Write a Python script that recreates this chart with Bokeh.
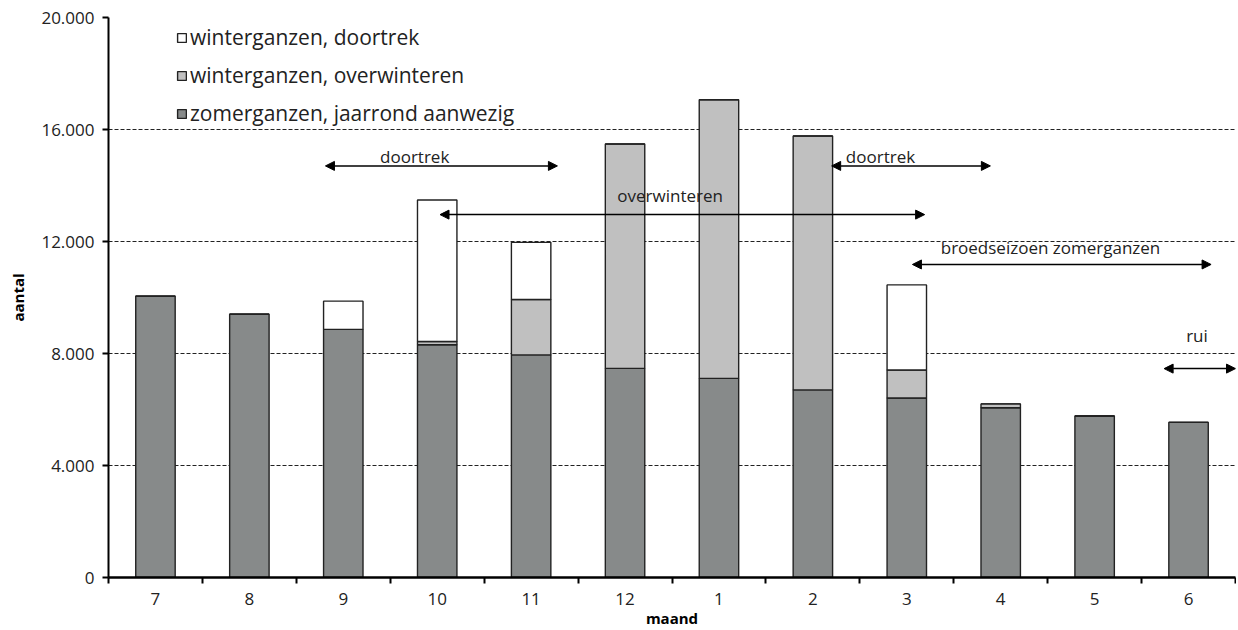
from bokeh.plotting import figure
from bokeh.models import (ColumnDataSource, Range1d, FixedTicker, Legend, LegendItem,
                          Arrow, NormalHead, Label)
from bokeh.embed import file_html
from bokeh.resources import INLINE

# ---- data ----
months = ["7", "8", "9", "10", "11", "12", "1", "2", "3", "4", "5", "6"]
zomerganzen = [10050, 9400, 8860, 8310, 7950, 7470, 7110, 6700, 6410, 6060, 5770, 5540]
overwinteren = [0, 0, 0, 120, 1980, 8010, 9950, 9070, 1000, 140, 0, 0]
doortrek = [0, 0, 1010, 5050, 2040, 0, 0, 0, 3040, 0, 0, 0]
series_names = ["zomerganzen, jaarrond aanwezig", "winterganzen, overwinteren", "winterganzen, doortrek"]
y_ticks = [0, 4000, 8000, 12000, 16000, 20000]
y_tick_labels = ["0", "4.000", "8.000", "12.000", "16.000", "20.000"]

# periods: label, arrow start, arrow end (month index), arrow level, label x, label y
period_labels = ["doortrek", "overwinteren", "doortrek", "broedseizoen zomerganzen", "rui"]
period_start = [1.81, 3.03, 7.20, 8.06, 10.74]
period_end = [4.28, 8.19, 8.89, 11.24, 11.50]
period_level = [14700, 12960, 14700, 11180, 7460]
label_x = [2.76, 5.48, 7.72, 9.53, 11.09]
label_y = [15040, 13640, 15040, 11790, 8640]

FONT = "Open Sans"
colors = ["#878a8a", "#c0c0c0", "#ffffff"]

x = list(range(len(months)))
src = ColumnDataSource(dict(x=x, zomer=zomerganzen, over=overwinteren, door=doortrek))

p = figure(width=1236, height=630, output_backend="svg", toolbar_location=None,
           x_range=Range1d(-0.5, 11.5), y_range=Range1d(0, 20000),
           min_border_left=108, min_border_right=1, min_border_top=17, min_border_bottom=52)
p.outline_line_color = None
p.background_fill_color = "white"

renderers = p.vbar_stack(["zomer", "over", "door"], x="x", width=0.42, source=src,
                         fill_color=colors, line_color="#222222", line_width=1.4)

# grid
p.xgrid.visible = False
p.ygrid.ticker = FixedTicker(ticks=y_ticks)
p.ygrid.grid_line_color = "#222222"
p.ygrid.grid_line_dash = "4 2"
p.ygrid.grid_line_width = 1.2

# y axis
p.yaxis.ticker = FixedTicker(ticks=y_ticks)
p.yaxis.major_label_overrides = {t: l for t, l in zip(y_ticks, y_tick_labels)}
p.yaxis.axis_line_width = 2
p.yaxis.axis_line_color = "black"
p.yaxis.major_tick_out = 6
p.yaxis.major_tick_in = 0
p.yaxis.major_tick_line_width = 2
p.yaxis.minor_tick_line_color = None
p.yaxis.major_label_text_font = FONT
p.yaxis.major_label_text_font_size = "17px"
p.yaxis.major_label_text_color = "#222222"
p.yaxis.major_label_standoff = 8
p.yaxis.axis_label = "aantal"
p.yaxis.axis_label_text_font = FONT
p.yaxis.axis_label_text_font_size = "15px"
p.yaxis.axis_label_text_font_style = "bold"
p.yaxis.axis_label_text_color = "black"
p.yaxis.axis_label_standoff = 10

# x axis: labels at centres, tick marks at boundaries (minor ticks)
p.xaxis.ticker = FixedTicker(ticks=x, minor_ticks=[i - 0.5 for i in range(len(months) + 1)])
p.xaxis.major_label_overrides = {i: m for i, m in zip(x, months)}
p.xaxis.major_tick_out = 0
p.xaxis.major_tick_in = 0
p.xaxis.minor_tick_out = 6
p.xaxis.minor_tick_in = 0
p.xaxis.minor_tick_line_width = 2
p.xaxis.minor_tick_line_color = "black"
p.xaxis.axis_line_width = 2.5
p.xaxis.axis_line_color = "black"
p.xaxis.major_label_text_font = FONT
p.xaxis.major_label_text_font_size = "17px"
p.xaxis.major_label_text_color = "#222222"
p.xaxis.major_label_standoff = 9
p.xaxis.axis_label = "maand"
p.xaxis.axis_label_text_font = FONT
p.xaxis.axis_label_text_font_size = "15px"
p.xaxis.axis_label_text_font_style = "bold"
p.xaxis.axis_label_text_color = "black"
p.xaxis.axis_label_standoff = 0

# period arrows and labels
for lab, xs, xe, yl, lx, ly in zip(period_labels, period_start, period_end, period_level, label_x, label_y):
    p.add_layout(Arrow(x_start=xs, x_end=xe, y_start=yl, y_end=yl, line_width=1.5, line_color="black",
                       start=NormalHead(size=9, fill_color="black", line_color="black"),
                       end=NormalHead(size=9, fill_color="black", line_color="black")))
    p.add_layout(Label(x=lx, y=ly, text=lab, text_align="center", text_baseline="middle",
                       text_font=FONT, text_font_size="17px", text_color="#222222"))

# legend (top to bottom: doortrek, overwinteren, zomer)
items = [LegendItem(label=series_names[i], renderers=[renderers[i]]) for i in [2, 1, 0]]
legend = Legend(items=items, location=(68, 450), orientation="vertical",
                background_fill_color="white", background_fill_alpha=1.0,
                border_line_color=None, padding=10, spacing=10, margin=0,
                label_height=24, glyph_width=11, glyph_height=11, label_standoff=3,
                label_text_font=FONT, label_text_font_size="21px", label_text_color="#222222")
p.add_layout(legend)

open("out.html", "w").write(file_html(p, INLINE))
